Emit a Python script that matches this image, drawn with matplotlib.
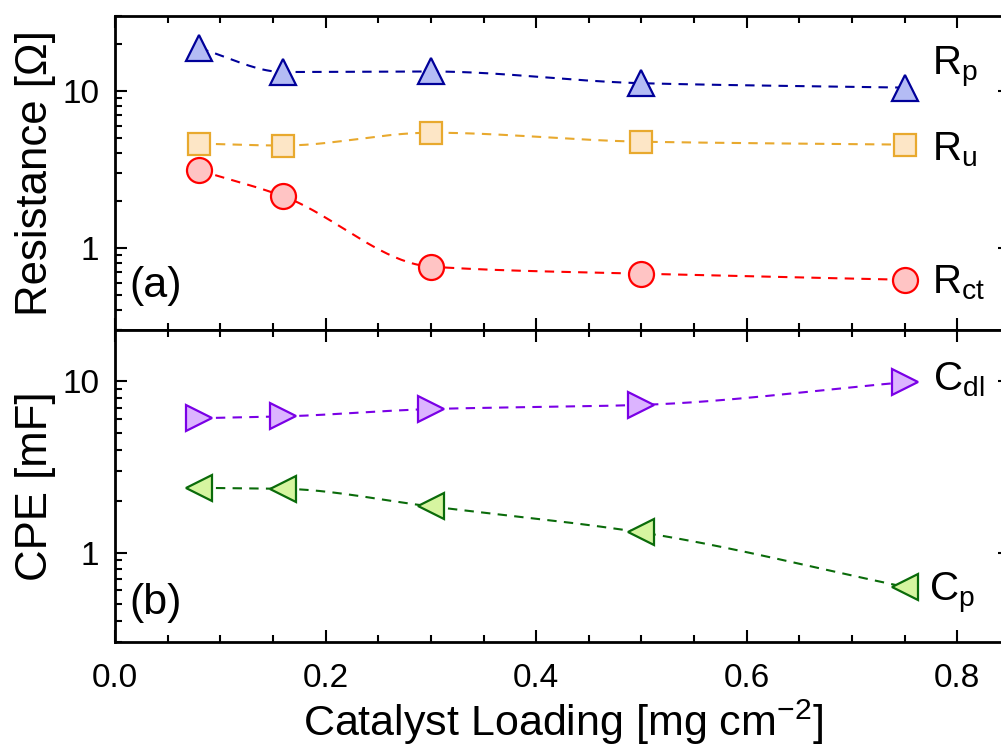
import numpy as np
import matplotlib
matplotlib.use("Agg")
import matplotlib.pyplot as plt
from matplotlib.ticker import LogLocator, FixedLocator, NullFormatter, MultipleLocator

plt.rcParams['font.family'] = ['Liberation Sans', 'DejaVu Sans']
plt.rcParams['mathtext.fontset'] = 'custom'
plt.rcParams['mathtext.rm'] = 'Liberation Sans'
plt.rcParams['mathtext.it'] = 'Liberation Sans'

loading = [0.08, 0.16, 0.30, 0.50, 0.75]
R_p = [18.7, 13.2, 13.3, 11.2, 10.5]
R_u = [4.62, 4.49, 5.42, 4.75, 4.55]
R_ct = [3.12, 2.13, 0.76, 0.685, 0.627]
C_dl = [6.1, 6.25, 6.9, 7.3, 9.9]
C_p = [2.39, 2.36, 1.86, 1.31, 0.63]


def smooth(x, y, n=200):
    """Monotone cubic (PCHIP) curve through the data points, in log-y."""
    x = np.asarray(x, float)
    y = np.log10(np.asarray(y, float))
    h = np.diff(x)
    d = np.diff(y) / h
    m = np.zeros_like(y)
    for i in range(1, len(x) - 1):
        if d[i - 1] * d[i] > 0:
            w1 = 2 * h[i] + h[i - 1]
            w2 = h[i] + 2 * h[i - 1]
            m[i] = (w1 + w2) / (w1 / d[i - 1] + w2 / d[i])
    m[0] = d[0]
    m[-1] = d[-1]
    xs = np.linspace(x[0], x[-1], n)
    ys = np.empty_like(xs)
    for k, xv in enumerate(xs):
        i = min(np.searchsorted(x, xv, side='right') - 1, len(x) - 2)
        t = (xv - x[i]) / h[i]
        h00 = 2 * t**3 - 3 * t**2 + 1
        h10 = t**3 - 2 * t**2 + t
        h01 = -2 * t**3 + 3 * t**2
        h11 = t**3 - t**2
        ys[k] = h00 * y[i] + h10 * h[i] * m[i] + h01 * y[i + 1] + h11 * h[i] * m[i + 1]
    return xs, 10 ** ys


fig = plt.figure(figsize=(10.01, 7.49), dpi=100)
L, R = 0.1149, 1.009
ax1 = fig.add_axes([L, 0.5594, R - L, 0.9786 - 0.5594])
ax2 = fig.add_axes([L, 0.1429, R - L, 0.5594 - 0.1429], sharex=ax1)

series_top = [
    (R_p, '^', '#000099', '#b4bcf4', 19),
    (R_u, 's', '#e8a92e', '#fde6c6', 15.5),
    (R_ct, 'o', '#ff0000', '#ffc4c4', 18),
]
series_bot = [
    (C_dl, '>', '#7a00e6', '#dcb4ff', 19),
    (C_p, '<', '#0a6b0a', '#d6f5a0', 19),
]

for ax, series in ((ax1, series_top), (ax2, series_bot)):
    for vals, mk, ec, fc, ms in series:
        xs, ys = smooth(loading, vals)
        ax.plot(xs, ys, ls=(0, (4.5, 3.5)), color=ec, lw=1.5, zorder=2)
        ax.plot(loading, vals, ls='none', marker=mk, ms=ms, mfc=fc, mec=ec,
                mew=1.6, zorder=3)

for ax in (ax1, ax2):
    ax.set_yscale('log')
    ax.set_xlim(0, 0.85)
    ax.xaxis.set_major_locator(MultipleLocator(0.2))
    ax.xaxis.set_minor_locator(MultipleLocator(0.05))
    ax.yaxis.set_major_locator(FixedLocator([1, 10]))
    ax.yaxis.set_minor_locator(LogLocator(base=10, subs=np.arange(2, 10)))
    ax.yaxis.set_minor_formatter(NullFormatter())
    ax.yaxis.set_major_formatter(plt.FuncFormatter(lambda v, p: f'{v:g}'))
    ax.tick_params(which='both', direction='in', top=True, right=True,
                   labelsize=24, width=1.5)
    ax.tick_params(axis='y', which='both', pad=11.5)
    ax.tick_params(axis='x', which='both', pad=15)
    ax.tick_params(which='major', length=8.5)
    ax.tick_params(which='minor', length=5)
    for s in ax.spines.values():
        s.set_linewidth(2)

ax1.set_ylim(0.3, 30)
ax2.set_ylim(0.3, 20)
ax1.tick_params(labelbottom=False)

ax1.set_ylabel('Resistance [Ω]', fontsize=31.5, labelpad=4)
ax2.set_ylabel('CPE [mF]', fontsize=31.5, labelpad=4)
ax2.set_xlabel('Catalyst Loading [mg cm$^{\\mathregular{−2}}$]', fontsize=31, labelpad=3)
fig.align_ylabels([ax1, ax2])

lab_kw = dict(fontsize=29, ha='left', va='center')
ax1.text(0.776, 14.3, '$\\mathregular{R_{p}}$', **lab_kw)
ax1.text(0.776, 4.25, '$\\mathregular{R_{u}}$', **lab_kw)
ax1.text(0.776, 0.60, '$\\mathregular{R_{ct}}$', **lab_kw)
ax2.text(0.777, 10.3, '$\\mathregular{C_{dl}}$', **lab_kw)
ax2.text(0.773, 0.58, '$\\mathregular{C_{p}}$', **lab_kw)

ax1.text(0.014, 0.57, '(a)', fontsize=31, ha='left', va='center')
ax2.text(0.014, 0.51, '(b)', fontsize=31, ha='left', va='center')

fig.savefig('out.png', dpi=100)
